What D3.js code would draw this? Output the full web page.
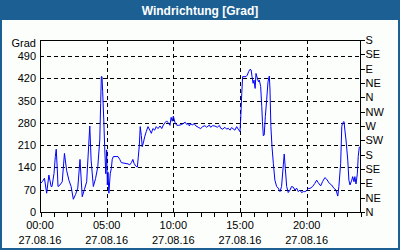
<!DOCTYPE html>
<html>
<head>
<meta charset="utf-8">
<script src="https://cdn.jsdelivr.net/npm/d3@7"></script>
<style>
  body { margin: 0; background: #fff; }
  svg { display: block; }
</style>
</head>
<body>
<div id="chart"></div>
<script>
const title = "Windrichtung [Grad]";
const day = "2016-08-27";

const times = [
  "00:00","00:10","00:20","00:30","00:40","00:50","00:54","01:03","01:09","01:13","01:18","01:21","01:30","01:40","01:50",
  "02:00","02:10","02:20","02:30","02:40","02:50","03:00","03:10","03:20","03:30","03:44","03:50","04:00","04:10","04:20",
  "04:29","04:33","04:36","04:39","04:42","04:47","04:51","04:56","05:00","05:03","05:06","05:10","05:16","05:21","05:25",
  "05:30","05:51","05:59","06:06","06:36","06:44","06:51","06:58","07:03","07:11","07:18","07:22","07:27","07:31","07:36",
  "07:40","07:46","07:51","07:58","08:06","08:14","08:21","08:28","08:36","08:43","08:51","09:00","09:08","09:15","09:22",
  "09:30","09:37","09:45","09:50","09:55","10:00","10:07","10:14","10:22","10:30","10:38","10:45","10:53","11:00","11:08",
  "11:12","11:18","11:27","11:33","11:42","11:52","12:03","12:12","12:22","12:30","12:42","12:48","12:57","13:07","13:18",
  "13:27","13:33","13:42","13:52","14:00","14:07","14:15","14:22","14:37","14:45","14:52","15:00","15:03","15:08","15:12",
  "15:18","15:27","15:33","15:39","15:45","15:50","15:54","15:59","16:03","16:08","16:12","16:18","16:23","16:27","16:33",
  "16:38","16:41","16:45","16:49","16:54","17:00","17:06","17:12","17:15","17:19","17:24","17:30","17:37","17:45","17:52",
  "18:00","18:07","18:15","18:19","18:24","18:30","18:37","18:45","18:52","19:00","19:07","19:15","19:22","19:30","19:37",
  "19:45","19:52","20:00","20:07","20:15","20:27","20:37","20:45","20:52","21:03","21:12","21:22","21:30","21:42","21:52",
  "22:03","22:12","22:20","22:25","22:33","22:38","22:42","22:48","22:52","22:57","23:05","23:10","23:15","23:23","23:27",
  "23:33","23:37","23:42","23:48","23:52","23:57"
];

const values = [
  88, 95, 106, 59, 116, 80, 80, 121, 174, 197, 132, 80, 85, 95, 184,
  130, 100, 80, 40, 55, 75, 165, 48, 71, 95, 270, 163, 80, 105, 142,
  226, 341, 425, 425, 378, 289, 205, 120, 195, 85, 125, 59, 120, 137, 165,
  174, 174, 165, 155, 151, 148, 155, 165, 153, 144, 141, 170, 210, 268, 240,
  205, 220, 236, 252, 268, 257, 247, 262, 257, 268, 262, 270, 262, 273, 280,
  286, 280, 272, 297, 285, 301, 282, 273, 272, 273, 275, 278, 282, 275, 278,
  270, 277, 273, 278, 270, 266, 262, 268, 271, 266, 273, 266, 271, 270, 266,
  272, 263, 260, 266, 260, 263, 257, 265, 257, 268, 260, 252, 290, 373, 425,
  425, 425, 430, 441, 448, 446, 425, 404, 414, 388, 435, 420, 409, 414, 394,
  331, 284, 239, 242, 300, 352, 409, 427, 383, 268, 205, 153, 100, 80, 75,
  64, 80, 148, 182, 136, 80, 61, 69, 80, 78, 69, 75, 64, 69, 61,
  64, 64, 67, 74, 74, 80, 90, 100, 92, 82, 96, 108, 103, 90, 85,
  74, 69, 50, 80, 153, 268, 280, 284, 257, 226, 163, 100, 85, 100, 111,
  95, 111, 88, 120, 174, 205
];

const gradTicks = [0, 70, 140, 210, 280, 350, 420, 490];
const compassTicks = [0, 45, 90, 135, 180, 225, 270, 315, 360, 405, 450, 495, 540];
const compassLabels = ["N","NE","E","SE","S","SW","W","NW","N","NE","E","SE","S"];

const W = 400, H = 250;
const m = { left: 40, right: 40, top: 40, bottom: 38 };
const blue = "#1c6093";
const font = "'Liberation Sans', Arial, sans-serif";

const parse = d3.timeParse("%Y-%m-%d %H:%M");
const data = times.map((t, i) => ({ t: parse(day + " " + t), v: values[i] }));
const t0 = parse(day + " 00:00");
const t1 = d3.timeDay.offset(t0, 1);

const x = d3.scaleTime().domain([t0, t1]).range([m.left, W - m.right]);
const y = d3.scaleLinear().domain([0, 540]).range([H - m.bottom, m.top]);

const svg = d3.select("#chart").append("svg")
  .attr("width", W).attr("height", H)
  .style("font-family", font).style("font-size", "11px");

// frame + title bar
svg.append("rect").attr("x", 1).attr("y", 1).attr("width", W - 2).attr("height", H - 2)
  .attr("fill", "#fcfefc").attr("stroke", blue).attr("stroke-width", 2);
svg.append("rect").attr("x", 0).attr("y", 0).attr("width", W).attr("height", 20).attr("fill", blue);
svg.append("text").attr("x", W / 2).attr("y", 14.5).attr("text-anchor", "middle")
  .attr("fill", "#fff").style("font-weight", "bold").style("font-size", "12px").text(title);

const g = svg.append("g").attr("shape-rendering", "crispEdges");

// grid
g.selectAll("line.hgrid").data(gradTicks.slice(1)).join("line")
  .attr("x1", m.left).attr("x2", W - m.right)
  .attr("y1", d => Math.round(y(d)) + 0.5).attr("y2", d => Math.round(y(d)) + 0.5)
  .attr("stroke", "#000").attr("stroke-dasharray", "4,3");
const majors = d3.timeHour.every(5).range(d3.timeHour.offset(t0, 1), t1);
g.selectAll("line.vgrid").data(majors).join("line")
  .attr("x1", d => Math.round(x(d)) + 0.5).attr("x2", d => Math.round(x(d)) + 0.5)
  .attr("y1", m.top).attr("y2", H - m.bottom)
  .attr("stroke", "#000").attr("stroke-dasharray", "4,3");

// plot frame
g.append("rect").attr("x", m.left + 0.5).attr("y", m.top + 0.5)
  .attr("width", W - m.left - m.right).attr("height", H - m.top - m.bottom)
  .attr("fill", "none").attr("stroke", "#000");

// left axis
const yl = d3.axisLeft(y).tickValues(gradTicks).tickSize(0).tickPadding(4);
svg.append("g").attr("transform", `translate(${m.left},0)`).call(yl)
  .call(a => a.select(".domain").remove())
  .call(a => a.selectAll("text").attr("fill", "#000").style("font-family", font).style("font-size", "11px"));
svg.append("text").attr("x", m.left - 4).attr("y", 47).attr("text-anchor", "end").text("Grad");

// right axis
const yr = d3.axisRight(y).tickValues(compassTicks).tickFormat((d, i) => compassLabels[i]).tickSize(4).tickPadding(1);
svg.append("g").attr("transform", `translate(${W - m.right + 0.5},0)`).attr("shape-rendering", "crispEdges").call(yr)
  .call(a => a.select(".domain").remove())
  .call(a => a.selectAll("line").attr("stroke", "#000"))
  .call(a => a.selectAll("text").attr("fill", "#000").style("font-family", font).style("font-size", "11px"));

// bottom axis
const xb = d3.axisBottom(x).ticks(d3.timeHour.every(1)).tickSize(4).tickFormat("");
svg.append("g").attr("transform", `translate(0.5,${H - m.bottom + 0.5})`).attr("shape-rendering", "crispEdges").call(xb)
  .call(a => a.select(".domain").remove())
  .call(a => a.selectAll("line").attr("stroke", "#000"));

const labelTicks = d3.timeHour.every(5).range(t0, t1);
const fmtT = d3.timeFormat("%H:%M"), fmtD = d3.timeFormat("%d.%m.%y");
const xl = svg.append("g").selectAll("text").data(labelTicks).join("text")
  .attr("x", d => x(d)).attr("text-anchor", "middle");
xl.append("tspan").attr("x", d => x(d)).attr("y", 229).text(fmtT);
xl.append("tspan").attr("x", d => x(d)).attr("y", 244).text(fmtD);

// series
svg.append("path").datum(data)
  .attr("fill", "none").attr("stroke", "#0000ff").attr("stroke-width", 1)
  .attr("d", d3.line().x(d => x(d.t)).y(d => y(d.v)));
</script>
</body>
</html>
